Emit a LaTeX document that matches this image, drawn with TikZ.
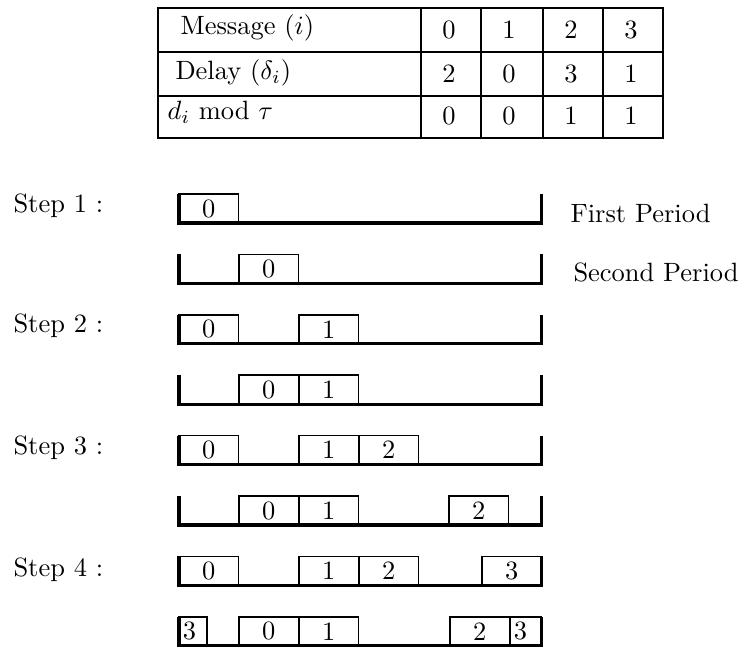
\documentclass[tikz,border=0pt]{standalone}
\usepackage{amsmath}
\usepackage{amssymb}

\begin{document}
\begin{tikzpicture}[
    x=0.378pt, y=-0.378pt,
    msg/.style={rectangle, draw=black, semithick, anchor=south west, outer sep=0pt, inner sep=0pt, minimum width=22.5pt, minimum height=10.96pt},
    part/.style={msg, minimum width=0pt, inner xsep=1.5pt, align=left},
    period/.style={line width=1.2pt, line join=miter},
    tableline/.style={line width=0.9pt},
    txt/.style={anchor=base west, inner sep=0pt},
    num/.style={inner sep=0pt}
]
    \useasboundingbox (0,0) rectangle (740,648);

    % table
    \draw[tableline] (158,8) rectangle (663,138);
    \draw[tableline] (158,52) -- (663,52) (158,96) -- (663,96);
    \draw[tableline] (421,8) -- (421,138) (481,8) -- (481,138) (543,8) -- (543,138) (603,8) -- (603,138);

    \node[txt] (hmsg) at (180,35) {Message ($i$)};
    \node[txt] (hdel) at (175,80) {Delay ($\delta_i$)};
    \node[txt] (hmod) at (167,120) {$d_i$ mod $\tau$};

    \node[num] (m0) at (449,30) {0};
    \node[num] (m1) at (509,30) {1};
    \node[num] (m2) at (571,30) {2};
    \node[num] (m3) at (631,30) {3};
    \node[num] (d0) at (449,74) {2};
    \node[num] (d1) at (509,74) {0};
    \node[num] (d2) at (571,74) {3};
    \node[num] (d3) at (631,74) {1};
    \node[num] (t0) at (449,116) {0};
    \node[num] (t1) at (509,116) {0};
    \node[num] (t2) at (571,116) {1};
    \node[num] (t3) at (631,116) {1};

    % step labels
    \node[txt] (step1) at (13,213) {Step 1 :};
    \node[txt] (step2) at (13,333) {Step 2 :};
    \node[txt] (step3) at (13,455) {Step 3 :};
    \node[txt] (step4) at (13,577) {Step 4 :};
    \node[txt] (first) at (570,223) {First Period};
    \node[txt] (second) at (573,282) {Second Period};

    % periods
    \draw[period] (179,194) -- (179,223) -- (541.5,223) -- (541.5,194);
    \draw[period] (179,254.4) -- (179,283.4) -- (541.5,283.4) -- (541.5,254.4);
    \draw[period] (179,314.8) -- (179,343.8) -- (541.5,343.8) -- (541.5,314.8);
    \draw[period] (179,375.2) -- (179,404.2) -- (541.5,404.2) -- (541.5,375.2);
    \draw[period] (179,435.6) -- (179,464.6) -- (541.5,464.6) -- (541.5,435.6);
    \draw[period] (179,496) -- (179,525) -- (541.5,525) -- (541.5,496);
    \draw[period] (179,556.4) -- (179,585.4) -- (541.5,585.4) -- (541.5,556.4);
    \draw[period] (179,616.8) -- (179,645.8) -- (541.5,645.8) -- (541.5,616.8);

    % step 1
    \node[msg] (s1f0) at (179,223) {0};
    \node[msg] (s1s0) at (239,283.4) {0};

    % step 2
    \node[msg] (s2f0) at (179,343.8) {0};
    \node[msg] (s2f1) at (299,343.8) {1};
    \node[msg] (s2s0) at (239,404.2) {0};
    \node[msg] (s2s1) at (299,404.2) {1};

    % step 3
    \node[msg] (s3f0) at (179,464.6) {0};
    \node[msg] (s3f1) at (299,464.6) {1};
    \node[msg] (s3f2) at (359,464.6) {2};
    \node[msg] (s3s0) at (239,525) {0};
    \node[msg] (s3s1) at (299,525) {1};
    \node[msg] (s3s2) at (449,525) {2};

    % step 4
    \node[msg] (s4f0) at (179,585.4) {0};
    \node[msg] (s4f1) at (299,585.4) {1};
    \node[msg] (s4f2) at (359,585.4) {2};
    \node[msg] (s4f3) at (482,585.4) {3};
    \node[part, text width=7.6pt] (s4s3a) at (179,645.8) {3};
    \node[msg] (s4s0) at (239,645.8) {0};
    \node[msg] (s4s1) at (299,645.8) {1};
    \node[msg] (s4s2) at (450,645.8) {2};
    \node[part, text width=8.8pt] (s4s3b) at (510,645.8) {3};

\end{tikzpicture}
\end{document}
